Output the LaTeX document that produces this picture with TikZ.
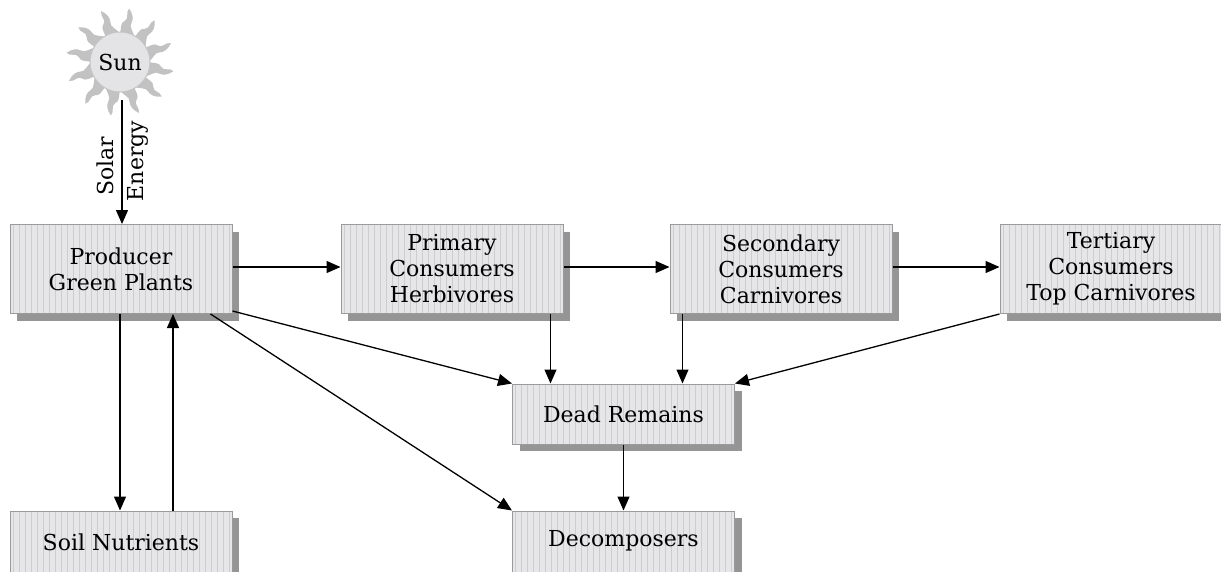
\documentclass[tikz,border=0pt]{standalone}
\usepackage{fontspec}
\setmainfont{DejaVu Serif}
\usetikzlibrary{arrows.meta,calc}
\definecolor{boxfill}{HTML}{E6E6E8}
\definecolor{stripe}{HTML}{CDCDD0}
\definecolor{boxedge}{HTML}{9A9A9A}
\definecolor{shadowc}{HTML}{959595}
\definecolor{rayc}{HTML}{C2C2C2}
\definecolor{sunfill}{HTML}{E4E4E6}
\definecolor{sunedge}{HTML}{C4C4C4}
\tikzset{
  stripebox/.style={minimum width=222pt, minimum height=#1, inner sep=0pt,
    align=center, font=\fontsize{22}{26}\selectfont,
    fill=boxfill, draw=boxedge, line width=1pt,
    path picture={
      \foreach \k in {0,6,...,230}{
        \draw[stripe, line width=1pt]
          ($(path picture bounding box.north west)+(\k+3,0)$) --
          ($(path picture bounding box.south west)+(\k+3,0)$);
      }
    },
    preaction={fill=shadowc, transform canvas={shift={(7pt,-7pt)}}}},
  stripebox/.default=89pt,
  flow/.style={line width=1.3pt, -{Triangle[length=14pt,width=12pt]}},
  vlabel/.style={rotate=90, font=\fontsize{22}{26}\selectfont, inner sep=0pt}
}
\begin{document}
\begin{tikzpicture}[x=1pt,y=-1pt]
\useasboundingbox (0,0) rectangle (1221,571);
% sun
\foreach \a in {0,30,...,330}{
  \fill[rayc, shift={(120,62)}, rotate=\a+15]
    (26,-8) .. controls (33,-6) and (36,-11) .. (41,-6)
    .. controls (45,-2) and (49,-8) .. (54,-5)
    .. controls (50,0) and (45,2) .. (41,1)
    .. controls (36,-1) and (33,6) .. (26,8) -- cycle;
}
\node[circle, minimum size=60pt, inner sep=0pt, fill=sunfill, draw=sunedge, line width=1pt,
      font=\fontsize{22}{26}\selectfont] (sun) at (120,62) {Sun};
\coordinate (sunfoot) at (122,100);
% boxes
\node[stripebox] (prod) at (121,269) {Producer\\Green Plants};
\node[stripebox] (prim) at (452,269) {Primary\\Consumers\\Herbivores};
\node[stripebox] (sec) at (781,269) {Secondary\\Consumers\\Carnivores};
\node[stripebox] (ter) at (1111,269) {Tertiary\\Consumers\\Top Carnivores};
\node[stripebox=60pt] (dead) at (623.5,414) {Dead Remains};
\node[stripebox=70pt] (dec) at (623.5,546) {};
\node[font=\fontsize{22}{26}\selectfont, inner sep=0pt] (dect) at (623.5,541) {Decomposers};
\node[stripebox=70pt] (soil) at (121,546) {};
\node[font=\fontsize{22}{26}\selectfont, inner sep=0pt] (soilt) at (121,542) {Soil Nutrients};
% labels
\node[vlabel] (solar) at (105,166) {Solar};
\node[vlabel] (energy) at (138,161) {Energy};
% connectors
\draw[flow] (sunfoot) -- (sunfoot |- prod.north);
\draw[flow] (prod.east |- 0,267) -- (prim.west |- 0,267);
\draw[flow] (prim.east |- 0,267) -- (sec.west |- 0,267);
\draw[flow] (sec.east |- 0,267) -- (ter.west |- 0,267);
\coordinate (pdown) at ($(prod.south)+(-1,0)$);
\draw[flow] (pdown) -- (pdown |- soil.north);
\coordinate (sup) at ($(soil.north)+(52,0)$);
\draw[flow] (sup) -- (sup |- prod.south);
\draw[flow] ($(prod.south east)+(0,-3)$) -- (dead.north west);
\draw[flow] ($(prod.south east)+(-22,0)$) -- (dec.north west);
\coordinate (pr) at ($(prim.south east)+(-13,0)$);
\draw[flow] (pr) -- (pr |- dead.north);
\coordinate (se) at ($(sec.south west)+(13,0)$);
\draw[flow] (se) -- (se |- dead.north);
\draw[flow] (ter.south west) -- (dead.north east);
\draw[flow] (dead.south) -- (dec.north);
\end{tikzpicture}
\end{document}
